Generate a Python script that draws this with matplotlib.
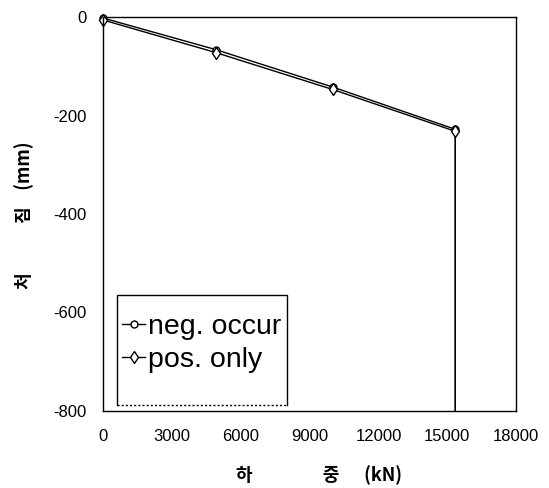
import matplotlib
matplotlib.use("Agg")
import matplotlib.pyplot as plt
from matplotlib.patches import Rectangle

load_neg = [0, 4900, 10000, 15350, 15350]
defl_neg = [-2, -66, -142, -228, -800]
load_pos = [0, 4900, 10000, 15350, 15350]
defl_pos = [-6, -72, -147, -232, -800]
xticks = [0, 3000, 6000, 9000, 12000, 15000, 18000]
yticks = [0, -200, -400, -600, -800]

plt.rcParams['font.family'] = ['Liberation Sans', 'Noto Sans CJK KR', 'DejaVu Sans']

fig = plt.figure(figsize=(5.49, 4.88), dpi=100)
ax = fig.add_axes([0.188, 0.158, 0.752, 0.807])

ax.plot(load_neg, defl_neg, color='black', lw=1.0, marker='o', ms=5,
        mfc='white', mec='black', mew=1.0, label='neg. occur', clip_on=False,
        markevery=[0, 1, 2, 3])
ax.plot(load_pos, defl_pos, color='black', lw=1.0, marker='d', ms=6,
        mfc='white', mec='black', mew=1.0, label='pos. only', clip_on=False,
        markevery=[0, 1, 2, 3])

ax.set_xlim(0, 18000)
ax.set_ylim(-800, 0)
ax.set_xticks(xticks)
ax.set_yticks(yticks)
ax.set_xticklabels([str(v) for v in xticks])
ax.set_yticklabels([str(v) for v in yticks])
ax.tick_params(length=0, labelsize=12)
ax.tick_params(axis='x', pad=13)
ax.tick_params(axis='y', pad=12)
for s in ax.spines.values():
    s.set_linewidth(1.0)

ax.set_xlabel('하' + ' ' * 17 + '중' + ' ' * 6 + '(kN)', fontsize=13,
              fontweight='bold', family=['Noto Sans CJK KR', 'DejaVu Sans'])
ax.xaxis.set_label_coords(0.523, -0.138)
ax.set_ylabel('처' + ' ' * 12 + '짐' + ' ' * 4 + '(mm)', fontsize=13,
              fontweight='bold', family=['Noto Sans CJK KR', 'DejaVu Sans'])
ax.yaxis.set_label_coords(-0.168, 0.497)

# legend box frame: solid top/left/right, dotted bottom
x0, x1, y0, y1 = 0.034, 0.4455, 0.015, 0.294
ax.add_patch(Rectangle((x0, y0), x1 - x0, y1 - y0, transform=ax.transAxes,
                       facecolor='white', edgecolor='none', zorder=4))
ax.plot([x0, x0, x1, x1], [y0, y1, y1, y0], color='black', lw=1.0,
        transform=ax.transAxes, zorder=4.5, solid_joinstyle='miter')
ax.plot([x0, x1], [y0, y0], color='black', lw=1.0, ls=(0, (1.5, 1.5)),
        transform=ax.transAxes, zorder=4.5)
leg = ax.legend(loc='upper left', bbox_to_anchor=(0.046, 0.247), fontsize=20.5,
                frameon=False, handlelength=0.8, handletextpad=0.1,
                borderpad=0, labelspacing=0.25, borderaxespad=0)
leg.set_zorder(5)

fig.savefig('out.png', dpi=100)
